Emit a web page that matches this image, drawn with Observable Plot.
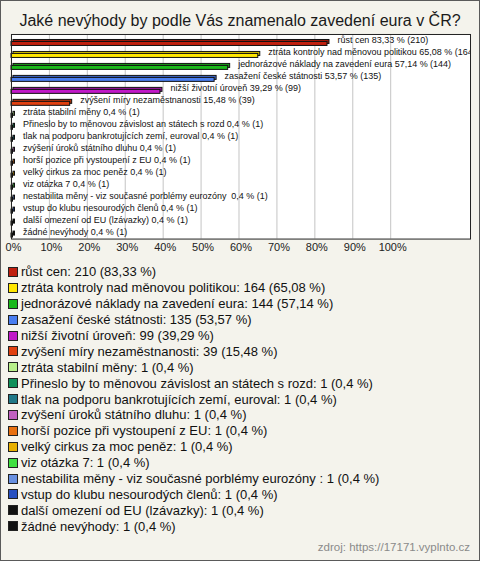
<!DOCTYPE html>
<html><head><meta charset="utf-8">
<script src="https://cdn.jsdelivr.net/npm/d3@7"></script>
<script src="https://cdn.jsdelivr.net/npm/@observablehq/plot@0.6"></script>
<style>
body{margin:0;background:#fff;}
#wrap{position:relative;width:480px;height:561px;box-sizing:border-box;border:1px solid #5a5a5a;background:#f4f3ec;font-family:"Liberation Sans",Arial,sans-serif;overflow:hidden;}
#title{position:absolute;left:0;top:11px;width:478px;text-align:center;font-size:16px;color:#1a1a1a;}
#chart{position:absolute;left:-1px;top:27px;}
#legend{position:absolute;left:7px;top:263px;}
.row{height:15.9px;display:flex;align-items:center;font-size:13px;white-space:nowrap;color:#111;}
.sw{width:8px;height:8px;border:1px solid #222;margin-right:3px;flex:none;}
#src{position:absolute;right:9px;top:540px;font-size:11.5px;color:#8a8a8a;}
</style></head>
<body>
<div id="wrap">
  <div id="title">Jaké nevýhody by podle Vás znamenalo zavedení eura v ČR?</div>
  <div id="chart"></div>
  <div id="legend"></div>
  <div id="src">zdroj: https://17171.vyplnto.cz</div>
</div>
<script>
const categories = [
  "růst cen",
  "ztráta kontroly nad měnovou politikou",
  "jednorázové náklady na zavedení eura",
  "zasažení české státnosti",
  "nižší životní úroveň",
  "zvýšení míry nezaměstnanosti",
  "ztráta stabilní měny",
  "Přineslo by to měnovou závislost an státech s rozd",
  "tlak na podporu bankrotujících zemí, euroval",
  "zvýšení úroků státního dluhu",
  "horší pozice při vystoupení z EU",
  "velký cirkus za moc peněz",
  "viz otázka 7",
  "nestabilita měny - viz současné porblémy eurozóny ",
  "vstup do klubu nesourodých členů",
  "další omezení od EU (lzávazky)",
  "žádné nevýhody"
];
const counts = [210, 164, 144, 135, 99, 39, 1, 1, 1, 1, 1, 1, 1, 1, 1, 1, 1];
const percents = [83.33, 65.08, 57.14, 53.57, 39.29, 15.48, 0.4, 0.4, 0.4, 0.4, 0.4, 0.4, 0.4, 0.4, 0.4, 0.4, 0.4];
const colors = ["#c0200f", "#ffe600", "#1ab81a", "#4a7ef0", "#c018c8", "#e04010", "#b8f08a", "#10905a", "#207888", "#c060c0", "#e87010", "#e8b000", "#40e040", "#6890e0", "#2850c0", "#111111", "#111111"];
const xTicks = [0, 10, 20, 30, 40, 50, 60, 70, 80, 90, 100];

const fmt = v => String(v).replace(".", ",");
const data = categories.map((c, i) => ({name: c, count: counts[i], pct: percents[i], color: colors[i]}));

const chart = Plot.plot({
  width: 480, height: 230,
  marginLeft: 11, marginRight: 9, marginTop: 6, marginBottom: 19,
  style: {background: "transparent", fontFamily: "'Liberation Sans', Arial, sans-serif", fontSize: "11px", color: "#222", overflow: "visible"},
  x: {domain: [0, 121.05], axis: null, label: null},
  y: {domain: categories, padding: 0, axis: null},
  marks: [
    Plot.frame({fill: "white"}),
    Plot.gridX(xTicks.filter(d => d > 0), {stroke: "#c4c4c4", strokeOpacity: 1}),
    Plot.barX(data, {x: "pct", y: "name", fill: d => d3.color(d.color).darker(0.5).formatHex(), stroke: "#111", strokeWidth: 1, insetTop: 6.5, insetBottom: 1.5, dx: 2, dy: -2}),
    Plot.barX(data, {x: "pct", y: "name", fill: "color", stroke: "#111", strokeWidth: 1, insetTop: 6.5, insetBottom: 1.5}),
    Plot.text(data, {x: "pct", y: "name", text: d => `${d.name} ${fmt(d.pct)} % (${d.count})`, dx: 10, dy: -1, textAnchor: "start", clip: true, fontSize: 9, fontFamily: "'Liberation Sans Narrow', 'Arial Narrow', 'Liberation Sans', Arial", fill: "#111"}),
    Plot.frame({stroke: "#222"}),
    Plot.axisX(xTicks, {tickSize: 0, tickPadding: 4, tickFormat: d => d + "%", dx: 2, fontSize: 11, fill: "#222", label: null})
  ]
});
document.getElementById("chart").appendChild(chart);

const legend = document.getElementById("legend");
data.forEach(d => {
  const row = document.createElement("div");
  row.className = "row";
  const sw = document.createElement("span");
  sw.className = "sw";
  sw.style.background = d.color;
  const t = document.createElement("span");
  t.textContent = `${d.name}: ${d.count} (${fmt(d.pct)} %)`;
  row.appendChild(sw); row.appendChild(t);
  legend.appendChild(row);
});
</script>
</body></html>
